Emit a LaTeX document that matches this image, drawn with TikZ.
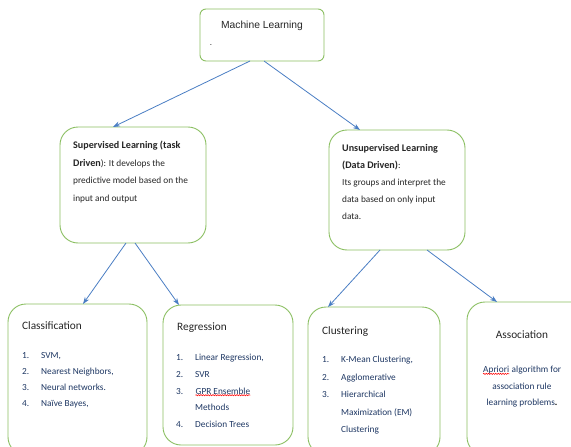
\documentclass[tikz,border=0pt]{standalone}
\usepackage{fontspec}
\setmainfont{Carlito}
\newfontfamily\arialfont{Liberation Sans}
\usetikzlibrary{arrows.meta,decorations.pathmorphing}
\definecolor{boxgreen}{HTML}{8CC063}
\definecolor{arrowblue}{HTML}{4A7EC4}
\definecolor{listblue}{HTML}{1F3864}
\definecolor{titlegray}{HTML}{262626}
\newcommand\squig[1]{\tikz[baseline=(sq.base)]{\node[inner sep=0pt](sq){#1};\draw[red,line width=0.5pt,decorate,decoration={snake,amplitude=0.6pt,segment length=2.4pt}]([yshift=-1.2pt]sq.base west)--([yshift=-1.2pt]sq.base east);}}
\newcommand\itm[1]{\makebox[19pt][l]{#1}}
\newcommand\bt[1]{{\fontsize{10.1}{17.5}\selectfont\textbf{#1}}}
\begin{document}
\begin{tikzpicture}[x=1pt,y=-1pt,
  gbox/.style={draw=boxgreen,line width=0.9pt,rounded corners=18pt},
  conn/.style={draw=arrowblue,line width=0.8pt,-{Stealth[length=7pt,width=5pt]}},
  body/.style={anchor=north west,inner sep=0pt,align=left,font=\fontsize{9.3}{17.5}\selectfont,text=titlegray},
  lst/.style={anchor=north west,inner sep=0pt,align=left,text=listblue},
  ttl/.style={anchor=west,inner sep=0pt,text=titlegray,font=\fontsize{11.3}{14}\selectfont}]
\useasboundingbox (0,0) rectangle (571,447);
\clip (0,0) rectangle (571,447);
\fill[white] (0,0) rectangle (571,447);

% boxes
\draw[draw=boxgreen,line width=0.9pt,rounded corners=6pt] (200,9) rectangle (324,61);
\coordinate (mlA) at (250,61);
\coordinate (mlB) at (264,61);
\node[inner sep=0pt,font=\arialfont\fontsize{10.3}{12}\selectfont,text=titlegray] (mlt) at (262,26) {Machine Learning};
\node[inner sep=0pt,font=\arialfont\fontsize{8}{9}\selectfont] (mldot) at (211,45) {.};

\draw[gbox] (60,127) rectangle (206,243);
\draw[gbox] (329,130) rectangle (465,250);
\draw[gbox] (8,304) rectangle (147,455);
\draw[gbox] (163,305) rectangle (293,445);
\draw[gbox] (308,307) rectangle (440,455);
\draw[gbox] (467,302) rectangle (590,455);

% anchor coordinates
\coordinate (supTop) at (113,127);
\coordinate (supA) at (126,243);
\coordinate (supB) at (135,243);
\coordinate (unsTop) at (360,130);
\coordinate (unsA) at (380,250);
\coordinate (unsB) at (427,250);
\coordinate (clsTop) at (83,304);
\coordinate (regTop) at (179,305);
\coordinate (cluTop) at (328,307);
\coordinate (assTop) at (497,302);

% texts
\node[body] (supt) at (73,141) {\bt{Supervised Learning (task}\\\bt{Driven}): It develops the\\predictive model based on the\\input and output};
\node[body,font=\fontsize{9.3}{17}\selectfont] (unst) at (342,144) {\bt{Unsupervised Learning}\\\bt{(Data Driven)}:\\Its groups and interpret the\\data based on only input\\data.};

\node[ttl] (clst) at (22,326) {Classification};
\node[lst,font=\fontsize{9.3}{16}\selectfont] (clsl) at (22,352) {\itm{1.}SVM,\\\itm{2.}Nearest Neighbors,\\\itm{3.}Neural networks.\\\itm{4.}Naïve Bayes,};

\node[ttl] (regt) at (177,328) {Regression};
\node[lst,font=\fontsize{9.3}{16.7}\selectfont] (regl) at (176,354) {\itm{1.}Linear Regression,\\\itm{2.}SVR\\\itm{3.}\squig{GPR Ensemble}\\\itm{}Methods\\\itm{4.}Decision Trees};

\node[ttl] (clut) at (322,332) {Clustering};
\node[lst,font=\fontsize{9.3}{17.5}\selectfont] (clul) at (322,356) {\itm{1.}K-Mean Clustering,\\\itm{2.}Agglomerative\\\itm{3.}Hierarchical\\\itm{}Maximization (EM)\\\itm{}Clustering};

\node[inner sep=0pt,text=titlegray,font=\fontsize{11.3}{14}\selectfont] (asst) at (522,335) {Association};
\node[anchor=north,inner sep=0pt,align=center,text=listblue,font=\fontsize{9.3}{16.5}\selectfont] (assl) at (522,366) {\squig{Apriori} algorithm for\\association rule\\learning problems\textcolor{black}{\textbf{.}}};

% connectors
\draw[conn] (mlA) -- (supTop);
\draw[conn] (mlB) -- (unsTop);
\draw[conn] (supA) -- (clsTop);
\draw[conn] (supB) -- (regTop);
\draw[conn] (unsA) -- (cluTop);
\draw[conn] (unsB) -- (assTop);
\end{tikzpicture}
\end{document}
